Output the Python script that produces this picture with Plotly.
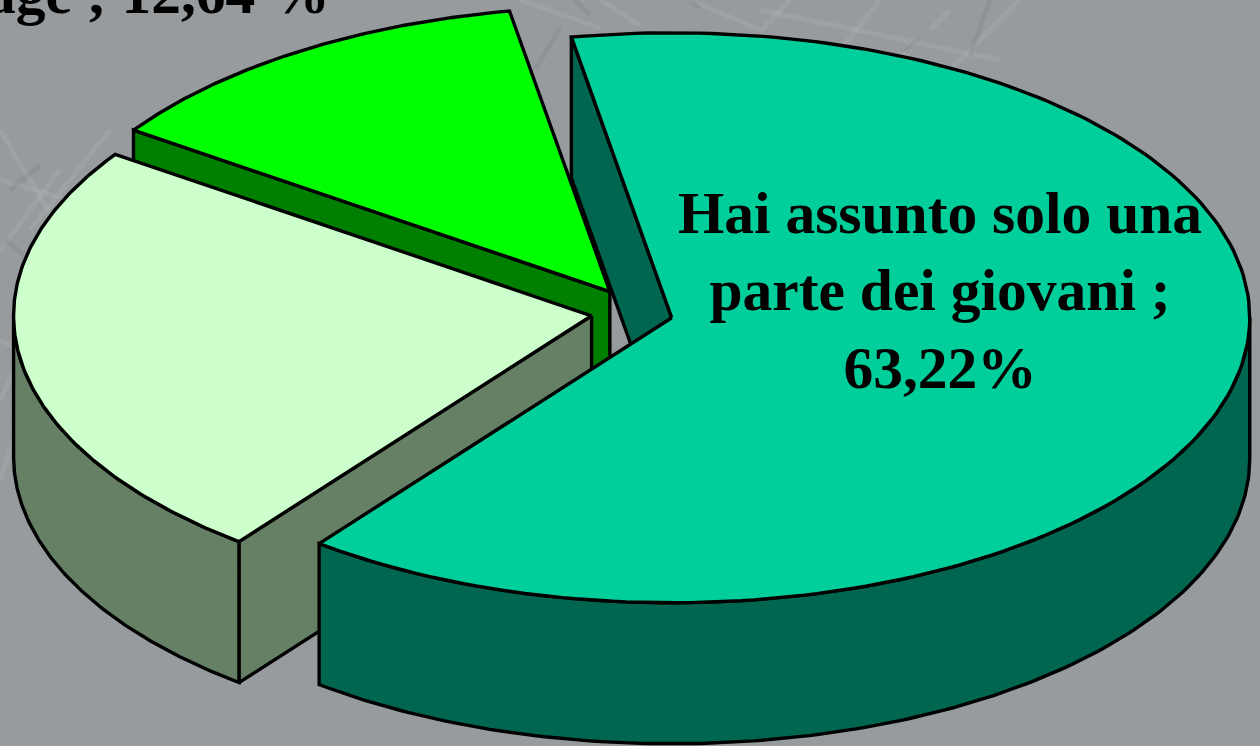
import numpy as np
import plotly.graph_objects as go

# Data (clockwise from the start angle)
categories = ["Hai assunto solo una parte dei giovani", "altro", "stage"]
values = [63.22, 24.14, 12.64]
main_label = "<b>Hai assunto solo una<br>parte dei giovani ;<br>63,22%</b>"
top_label = "<b>age ; 12,64 %</b>"

# Pie geometry: unit-radius pie, angles clockwise from the back of the pie
START_DEG = -10.0
EXPLODE_X, EXPLODE_Y = 0.0708, 0.085
RX, RY, DEPTH = 578.0, 285.0, 141.0
CX, CY = 632.0, 312.0
W, H = 1260, 746

top_colors = ["#00CF9B", "#CCFFCC", "#00FF00"]
wall_colors = ["#006650", "#668066", "#007F00"]
BG = "#979B9E"
LINE = dict(color="black", width=3.4)

# Faint background picture, suggested with a few pale strokes: (x0, y0, x1, y1)
light_strokes = [
    (520, 0, 600, 28), (600, 0, 640, 26), (690, 0, 760, 30), (760, 10, 1000, 60),
    (790, 0, 760, 32), (880, 0, 840, 50), (950, 10, 900, 60), (1020, 0, 950, 70),
    (0, 250, 60, 170), (0, 180, 70, 200), (0, 130, 60, 230), (30, 230, 110, 130),
    (0, 340, 20, 350), (0, 400, 14, 372), (0, 480, 14, 440),
]
dark_strokes = [
    (560, 28, 535, 70), (990, 0, 970, 55), (930, 30, 905, 52), (10, 190, 40, 165),
    (590, 15, 575, 0), (700, 8, 690, 0), (5, 240, 30, 260),
]

fractions = np.array(values) / sum(values)
edges = np.radians(START_DEG + 360 * np.concatenate([[0], np.cumsum(fractions)]))


def px(a):
    return np.sin(a) * RX


def py(a):
    return -np.cos(a) * RY


slices = []
for i in range(3):
    a0, a1 = edges[i], edges[i + 1]
    mid = (a0 + a1) / 2
    slices.append(dict(a0=a0, a1=a1, ox=CX + EXPLODE_X * px(mid), oy=CY + EXPLODE_Y * py(mid)))

fig = go.Figure()


def poly(xs, ys, color):
    fig.add_trace(go.Scatter(
        x=list(xs) + [xs[0]], y=list(ys) + [ys[0]], mode="lines", fill="toself",
        fillcolor=color, line=LINE, hoverinfo="skip", showlegend=False))


def top(i):
    s = slices[i]
    t = np.linspace(s["a0"], s["a1"], 180)
    poly([s["ox"]] + list(s["ox"] + px(t)), [s["oy"]] + list(s["oy"] + py(t)), top_colors[i])


def radial_wall(i, a):
    s = slices[i]
    ex, ey = s["ox"] + px(a), s["oy"] + py(a)
    poly([s["ox"], ex, ex, s["ox"]], [s["oy"], ey, ey + DEPTH, s["oy"] + DEPTH], wall_colors[i])


def outer_wall(i, a0, a1):
    s = slices[i]
    t = np.linspace(a0, a1, 160)
    x = s["ox"] + px(t)
    y = s["oy"] + py(t)
    poly(list(x) + list(x[::-1]), list(y) + list(y[::-1] + DEPTH), wall_colors[i])


# Painter's order, back to front
radial_wall(0, edges[0])
radial_wall(2, edges[2])
top(2)
radial_wall(1, edges[1])
outer_wall(1, edges[1], np.radians(270))
top(1)
outer_wall(0, np.radians(90), edges[1])
top(0)

FONT = dict(family="Liberation Serif", size=59.5, color="black")
fig.add_annotation(x=940, y=290, text=main_label, showarrow=False, xanchor="center", yanchor="middle",
                   align="center", font=FONT)
fig.add_annotation(xref="paper", yref="paper", x=332 / W, y=1 + 7 / H, text=top_label, showarrow=False,
                   xanchor="right", yanchor="middle", font=FONT)

shapes = []
for (x0, y0, x1, y1) in light_strokes:
    shapes.append(dict(type="line", x0=x0, y0=y0, x1=x1, y1=y1, layer="below",
                       line=dict(color="rgba(255,255,255,0.07)", width=5)))
for (x0, y0, x1, y1) in dark_strokes:
    shapes.append(dict(type="line", x0=x0, y0=y0, x1=x1, y1=y1, layer="below",
                       line=dict(color="rgba(70,70,70,0.09)", width=5)))

fig.update_layout(
    width=W, height=H, margin=dict(l=0, r=0, t=0, b=0), paper_bgcolor=BG, plot_bgcolor=BG,
    showlegend=False, shapes=shapes,
    xaxis=dict(range=[0, W], visible=False, fixedrange=True),
    yaxis=dict(range=[H, 0], visible=False, fixedrange=True),
)
fig.write_html("out.html", config=dict(displayModeBar=False),
               post_script="document.body.style.margin='0';document.body.style.overflow='hidden';")
